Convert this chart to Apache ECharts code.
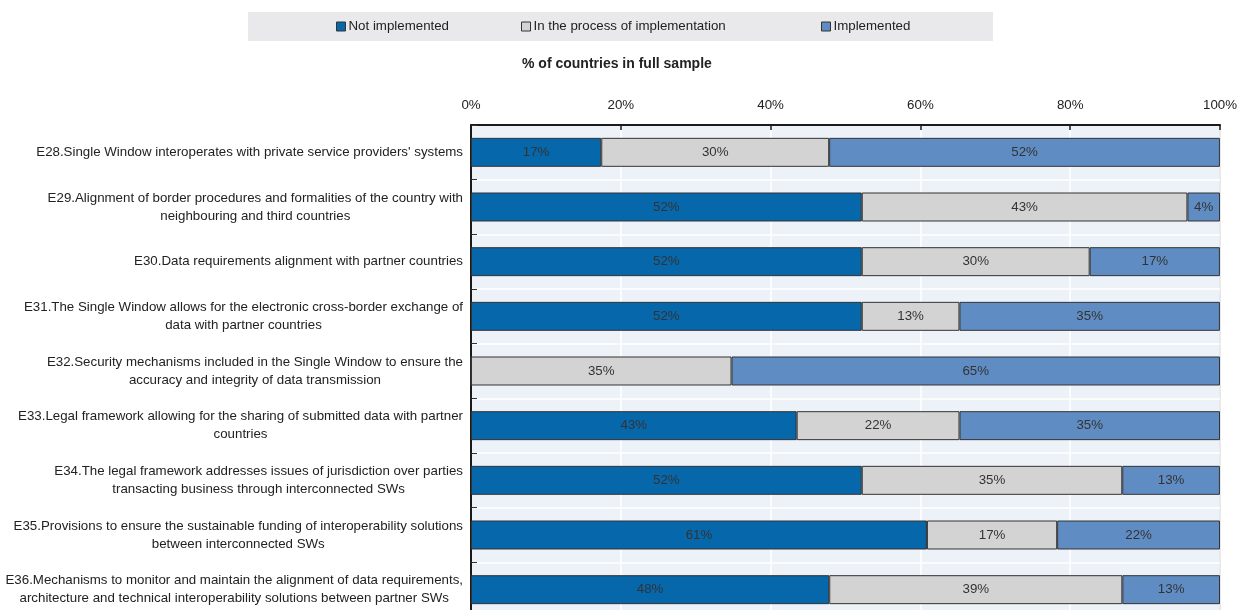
<!DOCTYPE html>
<html>
<head>
<meta charset="utf-8">
<title>Single Window interoperability measures</title>
<script src="https://cdn.jsdelivr.net/npm/echarts@6/dist/echarts.min.js"></script>
<style>
  html, body { margin: 0; padding: 0; background: #ffffff; }
  #chart { width: 1240px; height: 610px; }
</style>
</head>
<body>
<div id="chart"></div>
<script>
// Measures E28–E36, top to bottom
const categories = [
  "E28.Single Window interoperates with private service providers' systems",
  "E29.Alignment of border procedures and formalities of the country with\nneighbouring and third countries",
  "E30.Data requirements alignment with partner countries",
  "E31.The Single Window allows for the electronic cross-border exchange of\ndata with partner countries",
  "E32.Security mechanisms included in the Single Window to ensure the\naccuracy and integrity of data transmission",
  "E33.Legal framework allowing for the sharing of submitted data with partner\ncountries",
  "E34.The legal framework addresses issues of jurisdiction over parties\ntransacting business through interconnected SWs",
  "E35.Provisions to ensure the sustainable funding of interoperability solutions\nbetween interconnected SWs",
  "E36.Mechanisms to monitor and maintain the alignment of data requirements,\narchitecture and technical interoperability solutions between partner SWs"
];

// Share of countries (%) per implementation status
const notImplemented = [17.39, 52.17, 52.17, 52.17,  0.00, 43.48, 52.17, 60.87, 47.83];
const inProcess      = [30.43, 43.48, 30.43, 13.04, 34.78, 21.74, 34.78, 17.39, 39.13];
const implemented    = [52.17,  4.35, 17.39, 34.78, 65.22, 34.78, 13.04, 21.74, 13.04];

const seriesNames = ['Not implemented', 'In the process of implementation', 'Implemented'];
const seriesColors = ['#0767ab', '#d3d3d4', '#5f8dc3'];
const axisTicks = { min: 0, max: 100, interval: 20 };
const axisTitle = '% of countries in full sample';

const FONT = "'Liberation Sans', Arial, sans-serif";
const FS = 13.3;
const TEXT = '#222222';

const chart = echarts.init(document.getElementById('chart'), null, { renderer: 'canvas' });

function makeSeries(name, values, color) {
  return {
    name: name,
    type: 'bar',
    stack: 'total',
    data: values,
    barWidth: '53%',
    itemStyle: { color: color, borderColor: '#333333', borderWidth: 1 },
    label: {
      show: true,
      position: 'inside',
      fontFamily: FONT,
      fontSize: FS,
      color: '#333333',
      formatter: p => (p.value > 0 ? Math.round(p.value) + '%' : '')
    },
    emphasis: { disabled: true }
  };
}

// One legend per status, each in its own column of the header band
const legendLefts = [336, 521, 821];
const legends = seriesNames.map((n, i) => ({
  data: [n],
  left: legendLefts[i],
  top: 20,
  padding: 0,
  icon: 'rect',
  itemWidth: 9,
  itemHeight: 9,
  itemGap: 0,
  selectedMode: false,
  textStyle: { fontFamily: FONT, fontSize: FS, color: TEXT, padding: [0, 0, 0, -2] },
  itemStyle: { color: seriesColors[i], borderColor: '#333333', borderWidth: 1 }
}));

const option = {
  animation: false,
  backgroundColor: '#ffffff',
  graphic: [{
    type: 'rect',
    z: -10,
    shape: { x: 248, y: 12, width: 745, height: 29 },
    style: { fill: '#e9e9eb' }
  }],
  title: {
    text: axisTitle,
    left: 522,
    top: 57,
    padding: 0,
    textStyle: { fontFamily: FONT, fontSize: 14, fontWeight: 'bold', color: TEXT }
  },
  legend: legends,
  grid: {
    left: 471,
    right: 20,
    top: 125,
    height: 492,
    show: true,
    backgroundColor: '#edf1f8',
    borderColor: '#555555',
    borderWidth: 1,
    containLabel: false,
    outerBoundsMode: 'none'
  },
  xAxis: {
    type: 'value',
    position: 'top',
    min: axisTicks.min,
    max: axisTicks.max,
    interval: axisTicks.interval,
    axisLine: { show: true, lineStyle: { color: '#1a1a1a', width: 2 } },
    axisTick: { show: true, inside: true, length: 5, lineStyle: { color: '#1a1a1a', width: 1.5 } },
    splitLine: { show: true, lineStyle: { color: '#ffffff', width: 1.5 } },
    axisLabel: {
      margin: 13,
      fontFamily: FONT,
      fontSize: FS,
      color: TEXT,
      formatter: '{value}%'
    }
  },
  yAxis: {
    type: 'category',
    inverse: true,
    data: categories,
    axisLine: { show: true, lineStyle: { color: '#1a1a1a', width: 2 } },
    axisTick: { show: true, inside: true, length: 6, lineStyle: { color: '#333333', width: 1 } },
    splitLine: { show: true, lineStyle: { color: '#ffffff', width: 1.5 } },
    axisLabel: {
      margin: 8,
      align: 'right',
      color: TEXT,
      fontFamily: FONT,
      fontSize: FS,
      lineHeight: 18,
      formatter: v => v.split('\n').map(line => '{c|' + line + '}').join('\n'),
      rich: {
        c: { align: 'center', fontFamily: FONT, fontSize: FS, lineHeight: 18, color: TEXT }
      }
    }
  },
  series: [
    makeSeries(seriesNames[0], notImplemented, seriesColors[0]),
    makeSeries(seriesNames[1], inProcess, seriesColors[1]),
    makeSeries(seriesNames[2], implemented, seriesColors[2])
  ]
};

chart.setOption(option);
</script>
</body>
</html>
